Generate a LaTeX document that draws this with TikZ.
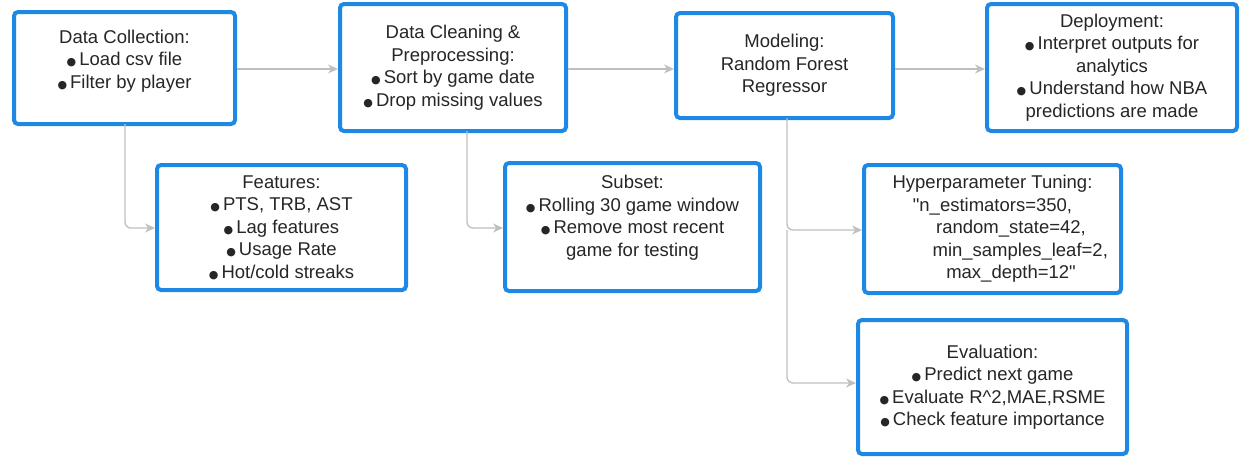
\documentclass[tikz,border=0pt]{standalone}
\usepackage{fontspec}
\setmainfont{Liberation Sans}[Ligatures=TeXOff]
\newfontfamily\djv{DejaVu Sans}
\usetikzlibrary{arrows.meta}
\newcommand{\bul}{{\djv\fontsize{11}{11}\selectfont ●}\,}
\definecolor{bb}{RGB}{30,136,229}
\begin{document}
\begin{tikzpicture}[x=1pt,y=-1pt,
  box/.style={draw=bb, line width=4pt, rounded corners=4pt, fill=white, inner sep=0pt, align=center, font=\fontsize{18.5}{22.5}\selectfont, text=black!85},
  conn/.style={draw=black!25, line width=1.3pt, -{Stealth[length=10pt,width=9pt]}}]
\useasboundingbox[fill=white] (0,0) rectangle (1248,467);
\node[box, minimum width=221pt, minimum height=112pt, text depth=18pt] (dc) at (124.5,68) {Data Collection:\\\bul Load csv file\\\bul Filter by player};
\node[box, minimum width=226pt, minimum height=127pt] (cl) at (453,67.5) {Data Cleaning \&\\Preprocessing:\\\bul Sort by game date\\\bul Drop missing values};
\node[box, minimum width=217pt, minimum height=105pt] (mo) at (784.5,65.5) {Modeling:\\Random Forest\\Regressor};
\node[box, minimum width=250pt, minimum height=127pt] (de) at (1112,67.5) {Deployment:\\\bul Interpret outputs for\\analytics\\\bul Understand how NBA\\predictions are made};
\node[box, minimum width=249pt, minimum height=125pt] (fe) at (281.5,227.5) {Features:\\\bul PTS, TRB, AST\\\bul Lag features\\\bul Usage Rate\\\bul Hot/cold streaks};
\node[box, minimum width=255pt, minimum height=128pt, text depth=22pt] (su) at (632.5,227) {Subset:\\\bul Rolling 30 game window\\\bul Remove most recent\\game for testing};
\node[box, minimum width=257pt, minimum height=128pt] (hy) at (992.5,229) {Hyperparameter Tuning:\\"n\_estimators=350,\\\hspace*{2em}random\_state=42,\\\hspace*{3em}min\_samples\_leaf=2,\\\hspace*{2em}max\_depth=12"};
\node[box, minimum width=269pt, minimum height=134pt] (ev) at (992.5,387) {Evaluation:\\\bul Predict next game\\\bul Evaluate R\^{}2,MAE,RSME\\\bul Check feature importance};
\draw[conn] (dc.east |- 0,69) -- (cl.west |- 0,69);
\draw[conn] (cl.east |- 0,69) -- (mo.west |- 0,69);
\draw[conn] (mo.east |- 0,69) -- (de.west |- 0,69);
\draw[conn, rounded corners=6pt] (125,124) -- (125,228) -- (fe.west |- 0,228);
\draw[conn, rounded corners=6pt] (467,131) -- (467,228) -- (su.west |- 0,228);
\draw[conn, rounded corners=6pt] (787,118) -- (787,230) -- (hy.west |- 0,230);
\draw[conn, rounded corners=6pt] (787,230) -- (787,383) -- (ev.west |- 0,383);
\end{tikzpicture}
\end{document}
